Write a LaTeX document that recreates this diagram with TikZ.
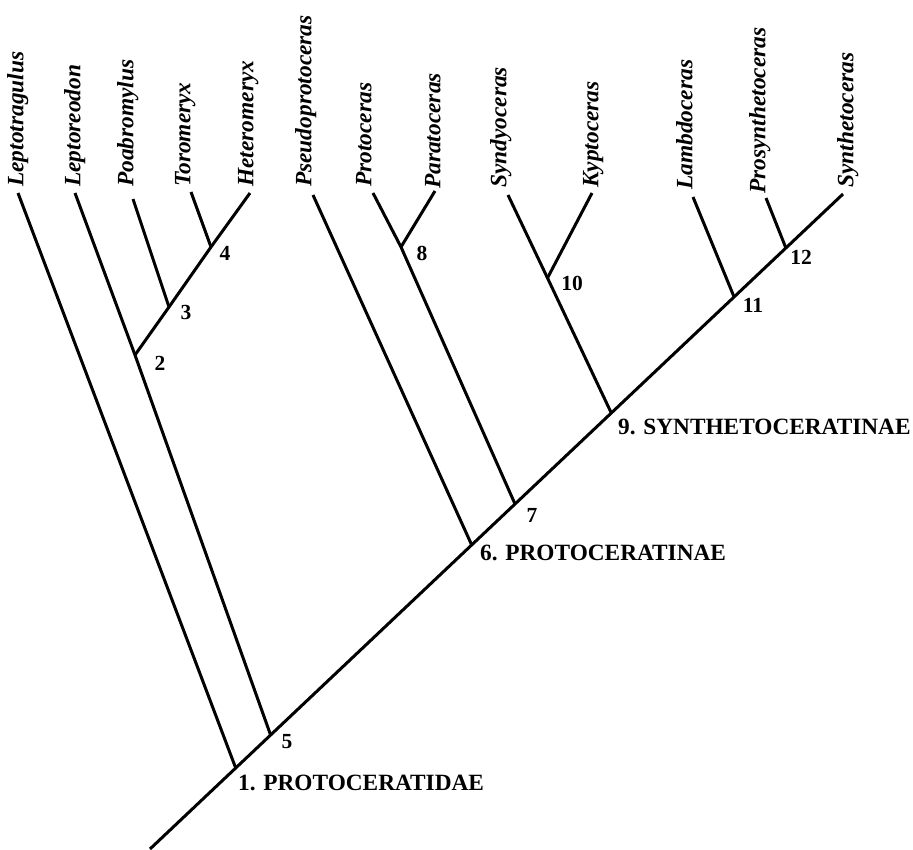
\documentclass[tikz,border=0pt]{standalone}
\usepackage{fontspec}
\setmainfont{Liberation Serif}
\usetikzlibrary{calc}
\begin{document}
\begin{tikzpicture}[x=1pt,y=-1pt,
  branch/.style={line width=3pt, line cap=butt, line join=round},
  taxon/.style={rotate=90, anchor=west, inner sep=0pt, font=\fontsize{23.4}{26}\selectfont\bfseries\itshape, text height=0.7em, text depth=0.22em},
  num/.style={inner sep=0pt, font=\fontsize{21.5}{24}\selectfont\bfseries},
  fam/.style={anchor=west, inner sep=0pt, font=\fontsize{23.3}{26}\selectfont\bfseries}]
\useasboundingbox (0,0) rectangle (913,849);
% trunk and internal junctions
\coordinate (root) at (150,849);
\coordinate (top) at (843,194);
\coordinate (n1) at (235.7,768);
\coordinate (n5) at (270.6,735);
\coordinate (n6) at (471.7,545);
\coordinate (n7) at (515.0,504);
\coordinate (n9) at (611.3,413);
\coordinate (n11) at (734.1,297);
\coordinate (n12) at (785.9,248);
\coordinate (n2) at (135,355);
\coordinate (n3) at (169,307);
\coordinate (n4) at (211,247);
\coordinate (n8) at (401,247);
\coordinate (n10) at (547.5,278);
% leaf tips
\coordinate (tLeptotragulus) at (18,193);
\coordinate (tLeptoreodon) at (75,193);
\coordinate (tPoabromylus) at (133,199);
\coordinate (tToromeryx) at (191,192);
\coordinate (tHeteromeryx) at (250,193);
\coordinate (tPseudo) at (313,195);
\coordinate (tProtoceras) at (373,193);
\coordinate (tParatoceras) at (435,191);
\coordinate (tSyndyoceras) at (508,195);
\coordinate (tKyptoceras) at (592,193);
\coordinate (tLambdoceras) at (693,197);
\coordinate (tProsyn) at (766,198);
% branches
\draw[branch] (root) -- (top);
\draw[branch] (tLeptotragulus) -- (n1);
\draw[branch] (tLeptoreodon) -- (n2) -- (n5);
\draw[branch] (n2) -- (n3) -- (n4) -- (tHeteromeryx);
\draw[branch] (tPoabromylus) -- (n3);
\draw[branch] (tToromeryx) -- (n4);
\draw[branch] (tPseudo) -- (n6);
\draw[branch] (tProtoceras) -- (n8) -- (n7);
\draw[branch] (tParatoceras) -- (n8);
\draw[branch] (tSyndyoceras) -- (n10) -- (n9);
\draw[branch] (tKyptoceras) -- (n10);
\draw[branch] (tLambdoceras) -- (n11);
\draw[branch] (tProsyn) -- (n12);
% taxon labels
\node[taxon] (lLeptotragulus) at (21,187) {Leptotragulus};
\node[taxon] (lLeptoreodon) at (78,187) {Leptoreodon};
\node[taxon] (lPoabromylus) at (131,187) {Poabromylus};
\node[taxon] (lToromeryx) at (188,187) {Toromeryx};
\node[taxon] (lHeteromeryx) at (251,187) {Heteromeryx};
\node[taxon] (lPseudo) at (309,187) {Pseudoprotoceras};
\node[taxon] (lProtoceras) at (369,187) {Protoceras};
\node[taxon] (lParatoceras) at (438,189) {Paratoceras};
\node[taxon] (lSyndyoceras) at (504,188) {Syndyoceras};
\node[taxon] (lKyptoceras) at (596,188) {Kyptoceras};
\node[taxon] (lLambdoceras) at (690,190) {Lambdoceras};
\node[taxon] (lProsyn) at (763,194) {Prosynthetoceras};
\node[taxon] (lSynthetoceras) at (851,188) {Synthetoceras};
% node numbers
\node[num] (k2) at (160,363) {2};
\node[num] (k3) at (186,312) {3};
\node[num] (k4) at (225,253) {4};
\node[num] (k5) at (287,742) {5};
\node[num] (k7) at (532,515) {7};
\node[num] (k8) at (422,253) {8};
\node[num] (k10) at (572,283) {10};
\node[num] (k11) at (753,305) {11};
\node[num] (k12) at (801,257) {12};
% family labels
\node[fam] (f1) at (238,783) {1. PROTOCERATIDAE};
\node[fam] (f6) at (480,553) {6. PROTOCERATINAE};
\node[fam] (f9) at (618,427) {9. SYNTHETOCERATINAE};
\end{tikzpicture}
\end{document}
